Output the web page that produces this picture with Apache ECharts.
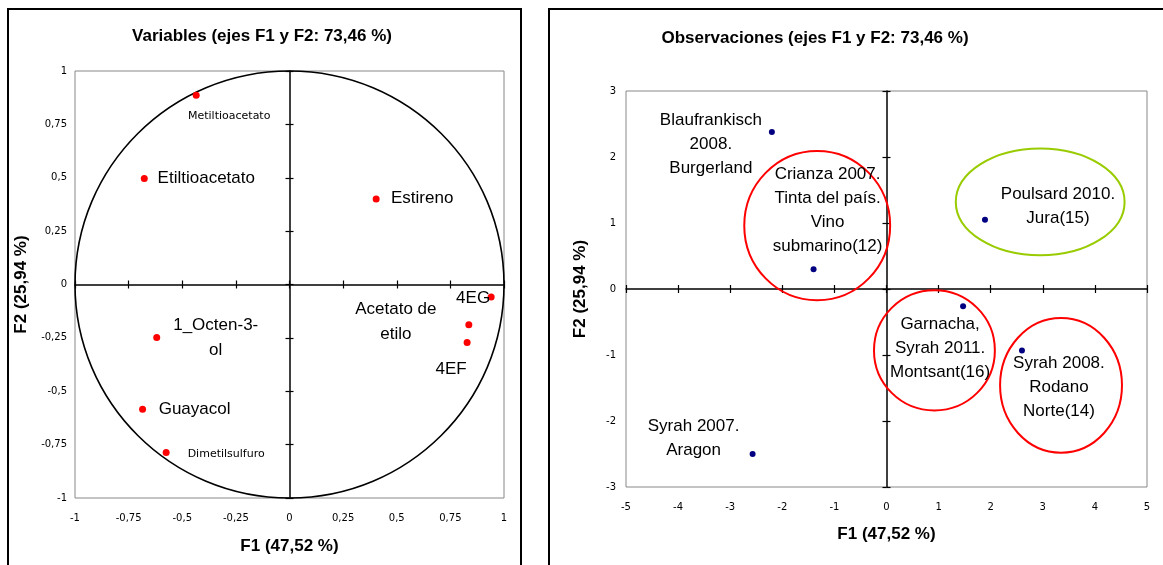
<!DOCTYPE html>
<html><head><meta charset="utf-8">
<script src="https://cdn.jsdelivr.net/npm/echarts@6/dist/echarts.min.js"></script>
<style>html,body{margin:0;padding:0;background:#fff}#c{width:1163px;height:565px}</style>
</head><body><div id="c"></div>
<script>
// ---- Data: variables (correlation circle) ----
const varNames = ['Metiltioacetato','Etiltioacetato','Estireno','4EG','Acetato de\netilo','4EF','1_Octen-3-\nol','Guayacol','Dimetilsulfuro'];
const varF1 = [-0.435,-0.677,0.404,0.940,0.836,0.828,-0.619,-0.685,-0.575];
const varF2 = [0.887,0.496,0.400,-0.059,-0.189,-0.272,-0.248,-0.584,-0.787];
// ---- Data: observations ----
const obsNames = ['Blaufrankisch\n2008.\nBurgerland','Crianza 2007.\nTinta del país.\nVino\nsubmarino(12)','Poulsard 2010.\nJura(15)','Garnacha,\nSyrah 2011.\nMontsant(16)','Syrah 2008.\nRodano\nNorte(14)','Syrah 2007.\nAragon'];
const obsF1 = [-2.20,-1.40,1.89,1.47,2.60,-2.57];
const obsF2 = [2.38,0.30,1.05,-0.26,-0.93,-2.50];
// ---- Group ellipses (centre F1, centre F2, half-width, half-height) ----
const grpCx = [-1.33, 2.95, 0.92, 3.35];
const grpCy = [0.96, 1.32, -0.93, -1.46];
const grpRx = [1.40, 1.62, 1.16, 1.17];
const grpRy = [1.13, 0.81, 0.91, 1.02];
const grpColor = ['#ff0000','#99cc00','#ff0000','#ff0000'];
// ---- Axis ranges / tick steps ----
const varRange = [-1, 1], varStep = 0.25;
const obsRange = [-5, 5], obsStepX = 1;
const obsRangeY = [-3, 3], obsStepY = 1;
const titleVar = 'Variables (ejes F1 y F2: 73,46 %)';
const titleObs = 'Observaciones (ejes F1 y F2: 73,46 %)';
const nameF1 = 'F1 (47,52 %)', nameF2 = 'F2 (25,94 %)';

// ---- Label layout (styling, kept apart from the data) ----
const varLabelOffset = [[33,21],[62,0],[46,-1],[-18,1],[-73,-3],[-16,27],[59,0],[52,0],[60,2]];
const varLabelSmall = [true,false,false,false,false,false,false,false,true];
const obsLabelOffset = [[-61,12],[14,-59],[73,-13],[-23,42],[37,37],[-59,-16]];

const fmt = v => String(v).replace('.', ',');
const SANS = 'Liberation Sans';
const tickFont = {fontSize: 10, fontFamily: 'DejaVu Sans', color: '#000'};
const axisName = {fontSize: 17, fontWeight: 'bold', fontFamily: SANS, color: '#000'};

function labelAxis(grid, range, step, name, nameGap, margin) {
  return {gridIndex: grid, type: 'value', min: range[0], max: range[1], interval: step,
    axisLine: {show: false, onZero: false}, axisTick: {show: false}, splitLine: {show: false},
    axisLabel: Object.assign({formatter: fmt, margin: margin, showMinLabel: true, showMaxLabel: true}, tickFont),
    name: name, nameLocation: 'middle', nameGap: nameGap, nameTextStyle: axisName};
}
function zeroAxis(grid, range, step, zeroIdx, inside) {
  return {gridIndex: grid, type: 'value', min: range[0], max: range[1], interval: step,
    axisLine: {show: !inside, onZero: true, onZeroAxisIndex: zeroIdx, lineStyle: {color: '#000', width: 1.5}},
    axisTick: {show: true, inside: inside, length: 4, lineStyle: {color: '#000', width: 1.2}},
    axisLabel: {show: false}, splitLine: {show: false}};
}

const xAxis = [
  labelAxis(0, varRange, varStep, nameF1, 40, 15),
  zeroAxis(0, varRange, varStep, 0, false),
  zeroAxis(0, varRange, varStep, 0, true),
  labelAxis(1, obsRange, obsStepX, nameF1, 39, 15),
  zeroAxis(1, obsRange, obsStepX, 3, false),
  zeroAxis(1, obsRange, obsStepX, 3, true)
];
const yAxis = [
  labelAxis(0, varRange, varStep, nameF2, 45, 8),
  zeroAxis(0, varRange, varStep, 0, false),
  zeroAxis(0, varRange, varStep, 0, true),
  labelAxis(1, obsRangeY, obsStepY, nameF2, 37, 10),
  zeroAxis(1, obsRangeY, obsStepY, 3, false),
  zeroAxis(1, obsRangeY, obsStepY, 3, true)
];

const varData = varNames.map((n, i) => ({
  name: n, value: [varF1[i], varF2[i]],
  label: {offset: varLabelOffset[i],
    fontSize: varLabelSmall[i] ? 11 : 17,
    fontFamily: varLabelSmall[i] ? 'DejaVu Sans' : SANS,
    lineHeight: 25}
}));
const obsData = obsNames.map((n, i) => ({
  name: n, value: [obsF1[i], obsF2[i]],
  label: {offset: obsLabelOffset[i]}
}));

function ellipseItem(params, api) {
  const c = api.coord([api.value(0), api.value(1)]);
  const s = api.size([api.value(2), api.value(3)]);
  return {type: 'ellipse', shape: {cx: c[0], cy: c[1], rx: s[0], ry: s[1]},
    style: {fill: 'none', stroke: api.value(4) === 1 ? '#000' : grpColor[params.dataIndex], lineWidth: api.value(4) === 1 ? 1.6 : 2}};
}

const option = {
  backgroundColor: '#fff',
  animation: false,
  title: [
    {text: titleVar, left: 257, top: 23, textAlign: 'center', textStyle: axisName},
    {text: titleObs, left: 810, top: 25, textAlign: 'center', textStyle: axisName}
  ],
  graphic: [
    {type: 'rect', shape: {x: 8, y: 9, width: 513, height: 600}, style: {fill: 'none', stroke: '#000', lineWidth: 2}, z: 100},
    {type: 'rect', shape: {x: 549, y: 9, width: 700, height: 600}, style: {fill: 'none', stroke: '#000', lineWidth: 2}, z: 100}
  ],
  grid: [
    {left: 75, top: 71, width: 429, height: 427, show: true, borderColor: '#888', borderWidth: 1, backgroundColor: 'transparent', containLabel: false, outerBoundsMode: 'none'},
    {left: 626, top: 91, width: 521, height: 396, show: true, borderColor: '#888', borderWidth: 1, backgroundColor: 'transparent', containLabel: false, outerBoundsMode: 'none'}
  ],
  xAxis: xAxis,
  yAxis: yAxis,
  series: [
    {type: 'custom', xAxisIndex: 0, yAxisIndex: 0, clip: false, silent: true, z: 1,
      data: [[0, 0, 1, 1, 1]], renderItem: ellipseItem},
    {type: 'custom', xAxisIndex: 3, yAxisIndex: 3, clip: false, silent: true, z: 1,
      data: grpCx.map((c, i) => [c, grpCy[i], grpRx[i], grpRy[i], 0]), renderItem: ellipseItem},
    {type: 'scatter', xAxisIndex: 0, yAxisIndex: 0, symbolSize: 7, z: 5,
      itemStyle: {color: '#ff0000', opacity: 1},
      label: {show: true, position: 'inside', formatter: p => p.name, color: '#000', align: 'center', verticalAlign: 'middle'},
      data: varData},
    {type: 'scatter', xAxisIndex: 3, yAxisIndex: 3, symbolSize: 6, z: 5,
      itemStyle: {color: '#000080', opacity: 1},
      label: {show: true, position: 'inside', formatter: p => p.name, color: '#000', align: 'center', verticalAlign: 'middle',
        fontSize: 17, fontFamily: SANS, lineHeight: 24},
      data: obsData}
  ]
};
const chart = echarts.init(document.getElementById('c'), null, {renderer: 'canvas'});
chart.setOption(option);
</script>
</body></html>
